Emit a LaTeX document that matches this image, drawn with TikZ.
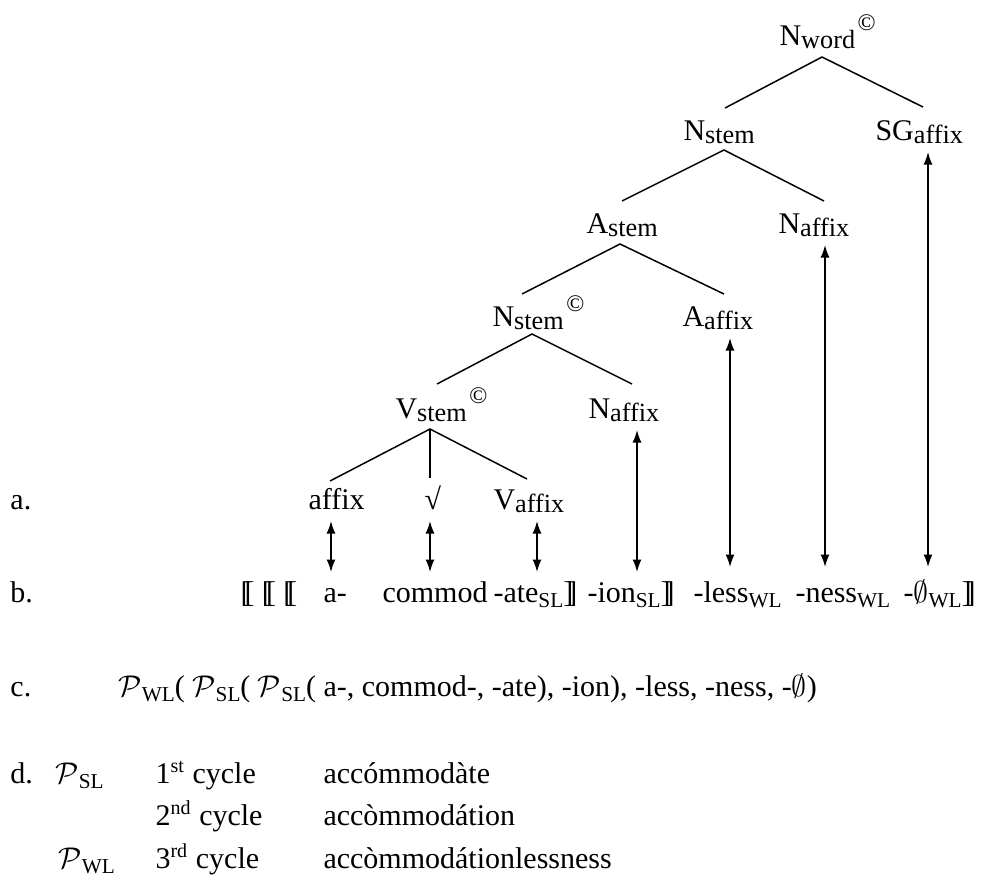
\documentclass[tikz,border=0pt]{standalone}
\usepackage{fontspec}
\setmainfont{Liberation Serif}
\usetikzlibrary{arrows.meta}
\newcommand\sbs[1]{\raisebox{-0.25ex}{\fontsize{10.5}{10.5}\selectfont #1}}
\newcommand\scs[1]{\raisebox{-0.4ex}{\fontsize{8.5}{8.5}\selectfont #1}}
\newcommand\cpy{\kern1pt\raisebox{6pt}{\fontsize{9.5}{9.5}\selectfont ©}}
\newcommand\mylb{[\kern-0.2em[}
\newcommand\myrb{]\kern-0.2em]}
\newcommand\scP{$\mathcal{P}$}
\begin{document}
\begin{tikzpicture}[x=0.4pt,y=-0.4pt,
  lab/.style={anchor=base west,inner sep=0pt,font=\fontsize{12}{14}\selectfont},
  edge/.style={line width=0.6pt},
  twohead/.style={line width=0.6pt,{Latex[length=5pt,width=3.6pt]}-{Latex[length=5pt,width=3.6pt]}}]
\useasboundingbox (0,0) rectangle (991,895);

% tree labels
\node[lab] (nword) at (779,45) {N\sbs{word}\cpy};
\node[lab] (nstemA) at (683,140) {N\sbs{stem}};
\node[lab] (sg) at (875,140) {SG\sbs{affix}};
\node[lab] (astem) at (586,233) {A\sbs{stem}};
\node[lab] (naffixB) at (778,233) {N\sbs{affix}};
\node[lab] (nstemB) at (492,326) {N\sbs{stem}\cpy};
\node[lab] (aaffix) at (682,326) {A\sbs{affix}};
\node[lab] (vstem) at (395,418) {V\sbs{stem}\cpy};
\node[lab] (naffixA) at (588,418) {N\sbs{affix}};
\node[lab] (affix) at (308,509) {affix};
\node[lab] (root) at (424,509) {√};
\node[lab] (vaffix) at (493,509) {V\sbs{affix}};

% row labels
\node[lab] (la) at (10,509) {a.};
\node[lab] (lb) at (10,602) {b.};
\node[lab] (lc) at (10,696) {c.};
\node[lab] (ld) at (10,783) {d.};

% b. line
\node[lab] (brk) at (240,602) {\mylb\ \mylb\ \mylb};
\node[lab] (ma) at (323,602) {a-};
\node[lab] (mcommod) at (382,602) {commod};
\node[lab] (mate) at (493,602) {-ate\scs{SL}\myrb};
\node[lab] (mion) at (587,602) {-ion\scs{SL}\myrb};
\node[lab] (mless) at (693,602) {-less\scs{WL}};
\node[lab] (mness) at (795,602) {-ness\scs{WL}};
\node[lab] (mnull) at (903,602) {-$\emptyset$\scs{WL}\myrb};

% c. line
\node[lab] (cform) at (118,696) {\scP\scs{WL}( \scP\scs{SL}( \scP\scs{SL}( a-, commod-, -ate), -ion), -less, -ness, -$\emptyset$)};

% d. lines
\node[lab] (pSL) at (55,783) {\scP\scs{SL}};
\node[lab] (cyc1) at (155,783) {1\textsuperscript{st} cycle};
\node[lab] (w1) at (323,783) {accómmodàte};
\node[lab] (cyc2) at (155,825) {2\textsuperscript{nd} cycle};
\node[lab] (w2) at (323,825) {accòmmodátion};
\node[lab] (pWL) at (58,868) {\scP\scs{WL}};
\node[lab] (cyc3) at (155,868) {3\textsuperscript{rd} cycle};
\node[lab] (w3) at (323,868) {accòmmodátionlessness};

% tree branch points
\coordinate (apx0) at (822,57);
\coordinate (e0l) at (725,108);
\coordinate (e0r) at (923,107);
\coordinate (apx1) at (724,150);
\coordinate (e1l) at (622,201);
\coordinate (e1r) at (824,201);
\coordinate (apx2) at (620,244);
\coordinate (e2l) at (522,294);
\coordinate (e2r) at (724,294);
\coordinate (apx3) at (532,334);
\coordinate (e3l) at (437,384);
\coordinate (e3r) at (632,384);
\coordinate (apx4) at (430,429);
\coordinate (e4l) at (330,481);
\coordinate (e4m) at (430,478);
\coordinate (e4r) at (527,479);

\draw[edge] (e0l) -- (apx0) -- (e0r);
\draw[edge] (e1l) -- (apx1) -- (e1r);
\draw[edge] (e2l) -- (apx2) -- (e2r);
\draw[edge] (e3l) -- (apx3) -- (e3r);
\draw[edge] (e4l) -- (apx4) -- (e4r);
\draw[edge] (apx4) -- (e4m);

% correspondence arrows
\coordinate (t1) at (331,521); \coordinate (b1) at (331,572);
\coordinate (t2) at (430,521); \coordinate (b2) at (430,572);
\coordinate (t3) at (537,521); \coordinate (b3) at (537,572);
\coordinate (t4) at (637,430); \coordinate (b4) at (637,572);
\coordinate (t5) at (730,338); \coordinate (b5) at (730,567);
\coordinate (t6) at (825,245); \coordinate (b6) at (825,567);
\coordinate (t7) at (928,152); \coordinate (b7) at (928,567);
\foreach \i in {1,...,7} {\draw[twohead] (t\i) -- (b\i);}
\end{tikzpicture}
\end{document}
